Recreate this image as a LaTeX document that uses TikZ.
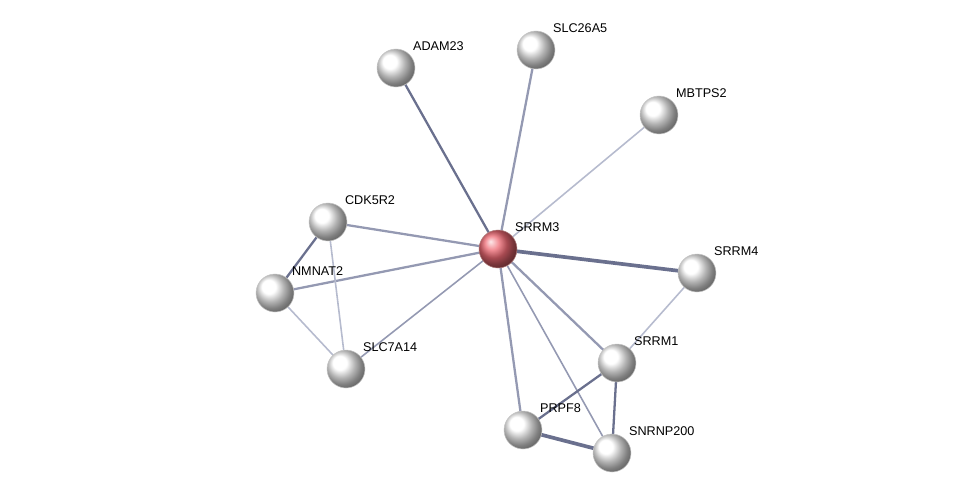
\documentclass[tikz,border=0pt]{standalone}
\usepackage{fontspec}
\setsansfont{Liberation Sans}
\usetikzlibrary{backgrounds}

\definecolor{linklight}{RGB}{182,187,206}
\definecolor{linkmid}{RGB}{148,153,178}
\definecolor{linkdark}{RGB}{106,112,142}
\definecolor{seedred}{RGB}{238,105,115}

\begin{document}
\begin{tikzpicture}[x=0.02cm, y=-0.02cm,
  prot/.style={circle, minimum size=0.76cm, inner sep=0pt, draw=gray!45, line width=0.3pt, ball color=white},
  seed/.style={prot, ball color=seedred, draw=red!40!black!50},
  lbl/.style={font=\sffamily\fontsize{7.2}{8}\selectfont, inner sep=0pt},
  weaklink/.style={draw=linklight, line width=0.9pt},
  midlink/.style={draw=linkmid, line width=1.3pt},
  stronglink/.style={draw=linkdark, line width=2.1pt},
  every label/.style={lbl}, label distance=2.5pt]

\useasboundingbox (0,0) rectangle (976,498);

% proteins
\node[seed, label=45:SRRM3] (srrm3) at (498,249) {};
\node[prot, label=45:ADAM23] (adam23) at (396,68) {};
\node[prot, label=45:SLC26A5] (slc26a5) at (536,50) {};
\node[prot, label=45:MBTPS2] (mbtps2) at (659,115) {};
\node[prot, label=45:CDK5R2] (cdk5r2) at (328,222) {};
\node[prot, label=45:NMNAT2] (nmnat2) at (275,293) {};
\node[prot, label=45:SLC7A14] (slc7a14) at (346,369) {};
\node[prot, label=45:SRRM4] (srrm4) at (697,273) {};
\node[prot, label=45:SRRM1] (srrm1) at (617,363) {};
\node[prot, label=45:PRPF8] (prpf8) at (523,430) {};
\node[prot, label=45:SNRNP200] (snrnp200) at (612,453) {};

% links
\begin{scope}[on background layer]
  \draw[midlink, draw=linkdark] (srrm3.center) -- (adam23.center);
  \draw[midlink] (srrm3.center) -- (slc26a5.center);
  \draw[weaklink] (srrm3.center) -- (mbtps2.center);
  \draw[midlink] (srrm3.center) -- (cdk5r2.center);
  \draw[midlink] (srrm3.center) -- (nmnat2.center);
  \draw[weaklink, draw=linkmid] (srrm3.center) -- (slc7a14.center);
  \draw[stronglink] (srrm3.center) -- (srrm4.center);
  \draw[midlink] (srrm3.center) -- (srrm1.center);
  \draw[midlink] (srrm3.center) -- (prpf8.center);
  \draw[weaklink, draw=linkmid] (srrm3.center) -- (snrnp200.center);
  \draw[midlink, draw=linkdark] (cdk5r2.center) -- (nmnat2.center);
  \draw[weaklink] (cdk5r2.center) -- (slc7a14.center);
  \draw[weaklink] (nmnat2.center) -- (slc7a14.center);
  \draw[weaklink] (srrm4.center) -- (srrm1.center);
  \draw[midlink, draw=linkdark] (srrm1.center) -- (prpf8.center);
  \draw[midlink, draw=linkdark] (srrm1.center) -- (snrnp200.center);
  \draw[stronglink] (prpf8.center) -- (snrnp200.center);
\end{scope}

\end{tikzpicture}
\end{document}
